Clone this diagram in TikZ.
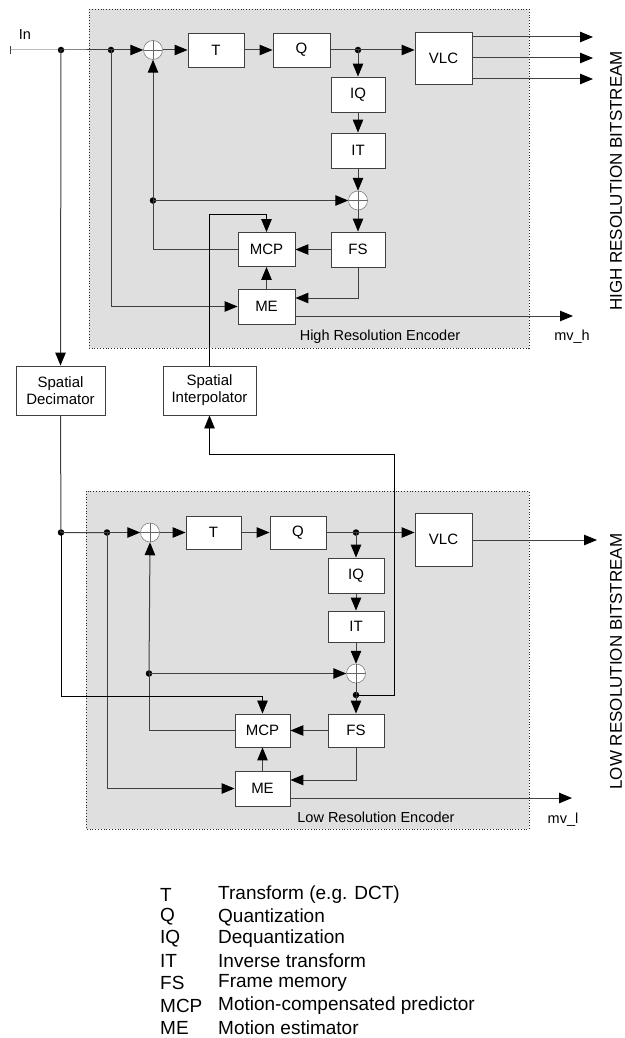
\documentclass[tikz,border=0pt]{standalone}
\usepackage{fontspec}
\setmainfont{Liberation Sans}
\usetikzlibrary{arrows.meta}
\begin{document}
\begin{tikzpicture}[x=1pt,y=-1pt,
  ln/.style={draw=black!75, line width=1pt},
  tip/.style={-{Triangle[length=13pt,width=10.5pt,color=black]}},
  arr/.style={ln, tip},
  blk/.style={draw=black!75, line width=0.9pt, fill=white, inner sep=0pt, align=center, font=\fontsize{15}{17}\selectfont},
  adder/.style={circle, draw=black!55, line width=0.5pt, fill=white, minimum size=19pt, inner sep=0pt,
    path picture={\draw[black!60, line width=0.5pt] (path picture bounding box.north) -- (path picture bounding box.south)
      (path picture bounding box.west) -- (path picture bounding box.east);}},
  dot/.style={circle, fill=black, minimum size=6.5pt, inner sep=0pt},
  enc/.style={fill=gray!25, draw=black!85, dotted, line width=0.8pt},
  lbl/.style={font=\fontsize{14.5}{16}\selectfont, inner sep=0pt},
  bits/.style={font=\fontsize{17}{19}\selectfont, rotate=90, inner sep=0pt},
  leg/.style={font=\fontsize{19}{21}\selectfont, anchor=west, inner sep=0pt}]
\useasboundingbox (0,0) rectangle (624,1038);
% encoder backgrounds
\path[enc] (89,9) rectangle (529,348);
\path[enc] (86,491) rectangle (529,829);
% ---------------- high resolution encoder ----------------
\node[blk, minimum width=56pt, minimum height=34pt] (T1) at (216,50) {T};
\node[blk, minimum width=57pt, minimum height=34pt] (Q1) at (301.5,50) {Q};
\node[blk, minimum width=57pt, minimum height=52pt] (VLC1) at (443.5,58) {VLC};
\node[blk, minimum width=54pt, minimum height=35pt] (IQ1) at (358,94.5) {IQ};
\node[blk, minimum width=54pt, minimum height=35pt] (IT1) at (358,150.5) {IT};
\node[blk, minimum width=54pt, minimum height=35pt] (FS1) at (358,249.5) {FS};
\node[blk, minimum width=57pt, minimum height=34pt] (MCP1) at (266.5,249.5) {MCP};
\node[blk, minimum width=57pt, minimum height=35pt] (ME1) at (266.5,306.5) {ME};
\node[adder] (A1) at (153,50) {};
\node[adder] (A1b) at (358,200.5) {};
\node[dot] (dIn) at (61,50) {};
\node[dot] (d1) at (111,50) {};
\node[dot] (dQ1) at (358,50) {};
\node[dot] (dF1) at (153,200.5) {};
\coordinate (inS) at (10,50);
\coordinate (o1) at (593,37);
\coordinate (o2) at (593,58);
\coordinate (o3) at (593,79);
\coordinate (mvh) at (573,316);
\coordinate (k1) at (0,214);
% ---------------- spatial blocks ----------------
\node[blk, minimum width=89pt, minimum height=49pt] (SD) at (60.5,390.5) {Spatial\\Decimator};
\node[blk, minimum width=93pt, minimum height=49pt] (SI) at (209.5,390.5) {Spatial\\Interpolator};
% ---------------- low resolution encoder ----------------
\node[blk, minimum width=55pt, minimum height=33pt] (T2) at (213.5,532.5) {T};
\node[blk, minimum width=56pt, minimum height=33pt] (Q2) at (298,532.5) {Q};
\node[blk, minimum width=57pt, minimum height=53pt] (VLC2) at (443.5,539.5) {VLC};
\node[blk, minimum width=56pt, minimum height=35pt] (IQ2) at (356,575.5) {IQ};
\node[blk, minimum width=56pt, minimum height=31pt] (IT2) at (356,626.5) {IT};
\node[blk, minimum width=56pt, minimum height=33pt] (FS2) at (356,730.5) {FS};
\node[blk, minimum width=55pt, minimum height=33pt] (MCP2) at (262.5,730.5) {MCP};
\node[blk, minimum width=55pt, minimum height=35pt] (ME2) at (262.5,788.5) {ME};
\node[adder] (A2) at (150,532.5) {};
\node[adder] (A2b) at (356,673.5) {};
\node[dot] (dSD) at (61,532.5) {};
\node[dot] (d2) at (107,532.5) {};
\node[dot] (dQ2) at (356,532.5) {};
\node[dot] (dF2) at (149,673.5) {};
\node[dot] (dS2) at (356,695) {};
\coordinate (o4) at (597,540);
\coordinate (mvl) at (572,798);
\coordinate (k2) at (394,454);
\coordinate (k3) at (0,696);
% ---------------- connectors: high ----------------
\draw[ln, {Bar[width=8pt]}-] (inS) -- (dIn.center) -- (d1.center);
\draw[arr] (d1.center) -- (A1.west);
\draw[arr] (A1.east) -- (T1.west);
\draw[arr] (T1.east) -- (Q1.west);
\draw[ln] (Q1.east) -- (dQ1.center);
\draw[arr] (dQ1.center) -- (dQ1.center -| VLC1.west);
\draw[arr] (VLC1.east |- o1) -- (o1);
\draw[arr] (VLC1.east |- o2) -- (o2);
\draw[arr] (VLC1.east |- o3) -- (o3);
\draw[arr] (dQ1.center) -- (IQ1.north);
\draw[arr] (IQ1.south) -- (IT1.north);
\draw[arr] (IT1.south) -- (A1b.north);
\draw[arr] (A1b.south) -- (FS1.north);
\draw[arr] (FS1.west) -- (MCP1.east);
\draw[arr] (FS1.south) |- ([yshift=8.5pt]ME1.east);
\draw[arr] (ME1.north) -- (MCP1.south);
\draw[ln] (MCP1.west) -| (dF1.center);
\draw[arr] (dF1.center) -- (A1.south);
\draw[arr] (dF1.center) -- (A1b.west);
\draw[arr] (d1.center) |- (ME1.west);
\draw[arr] (ME1.east |- mvh) -- (mvh);
\draw[arr] (dIn.center) -- (SD.north);
\draw[draw=black, line width=0.8pt, tip] (SI.north) |- (MCP1.north |- k1) -- (MCP1.north);
% ---------------- connectors: low ----------------
\draw[ln] (SD.south) -- (dSD.center) -- (d2.center);
\draw[arr] (d2.center) -- (A2.west);
\draw[arr] (A2.east) -- (T2.west);
\draw[arr] (T2.east) -- (Q2.west);
\draw[ln] (Q2.east) -- (dQ2.center);
\draw[arr] (dQ2.center) -- (dQ2.center -| VLC2.west);
\draw[arr] (VLC2.east |- o4) -- (o4);
\draw[arr] (dQ2.center) -- (IQ2.north);
\draw[arr] (IQ2.south) -- (IT2.north);
\draw[arr] (IT2.south) -- (A2b.north);
\draw[ln] (A2b.south) -- (dS2.center);
\draw[arr] (dS2.center) -- (FS2.north);
\draw[draw=black, line width=0.8pt, tip] (dS2.center) -| (k2) -| (SI.south);
\draw[arr] (FS2.west) -- (MCP2.east);
\draw[arr] (FS2.south) |- ([yshift=8.5pt]ME2.east);
\draw[arr] (ME2.north) -- (MCP2.south);
\draw[ln] (MCP2.west) -| (dF2.center);
\draw[arr] (dF2.center) -- (A2.south);
\draw[arr] (dF2.center) -- (A2b.west);
\draw[arr] (d2.center) |- (ME2.west);
\draw[arr] (ME2.east |- mvl) -- (mvl);
\draw[draw=black, line width=0.8pt, tip] (dSD.center) |- (MCP2.north |- k3) -- (MCP2.north);
% ---------------- labels ----------------
\node[lbl] (lIn) at (25,35) {In};
\node[lbl] (lmvh) at (572,337) {mv\_h};
\node[lbl] (lmvl) at (563,820) {mv\_l};
\node[lbl] (lHR) at (380,337) {High Resolution Encoder};
\node[lbl] (lLR) at (376,817) {Low Resolution Encoder};
\node[bits] (bH) at (616,181) {HIGH RESOLUTION BITSTREAM};
\node[bits] (bL) at (616,661.5) {LOW RESOLUTION BITSTREAM};
% ---------------- legend ----------------
\node[leg] (a1) at (160,895) {T};
\node[leg] (a2) at (160,917) {Q};
\node[leg] (a3) at (160,939) {IQ};
\node[leg] (a4) at (160,961) {IT};
\node[leg] (a5) at (160,983) {FS};
\node[leg] (a6) at (160,1006) {MCP};
\node[leg] (a7) at (160,1028) {ME};
\node[leg] (b1) at (218,895) {Transform (e.g. DCT)};
\node[leg] (b2) at (218,917) {Quantization};
\node[leg] (b3) at (218,939) {Dequantization};
\node[leg] (b4) at (218,961) {Inverse transform};
\node[leg] (b5) at (218,983) {Frame memory};
\node[leg] (b6) at (218,1006) {Motion-compensated predictor};
\node[leg] (b7) at (218,1028) {Motion estimator};
\end{tikzpicture}
\end{document}
